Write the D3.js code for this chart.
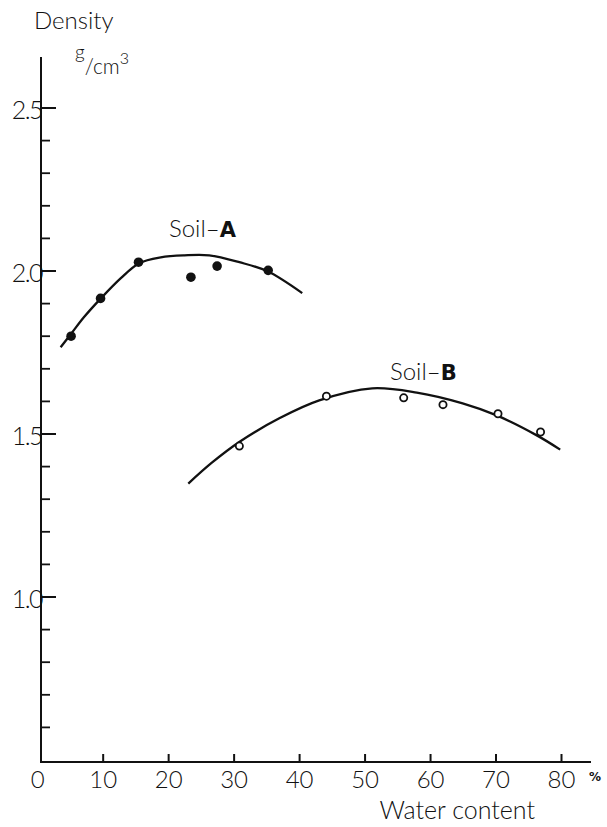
<!DOCTYPE html>
<html>
<head>
<meta charset="utf-8">
<script src="https://cdn.jsdelivr.net/npm/d3@7/dist/d3.min.js"></script>
<style>
  html, body { margin: 0; padding: 0; background: #fff; }
  svg { display: block; }
  .lbl { font-family: Lato, "Open Sans", sans-serif; font-weight: 300; fill: #111; }
  .ttl { font-family: Lato, "Open Sans", sans-serif; font-weight: 300; fill: #111; }
</style>
</head>
<body>
<svg id="chart" width="607" height="827"></svg>
<script>
// ---- Data ----
const soilA_x = [5.1, 9.6, 15.4, 23.4, 27.4, 35.2];
const soilA_y = [1.80, 1.916, 2.027, 1.981, 2.015, 2.002];

const soilB_x = [30.8, 44.1, 55.9, 61.9, 70.3, 76.8];
const soilB_y = [1.463, 1.616, 1.611, 1.590, 1.562, 1.506];

// hand-drawn fitted curves
const curveA_x = [3.5, 5.05, 7.05, 9.65, 12.7, 15.5, 18.8, 22.4, 26.2, 30.8, 35.1, 40.4];
const curveA_y = [1.766, 1.806, 1.858, 1.916, 1.978, 2.024, 2.042, 2.048, 2.048, 2.027, 1.999, 1.932];

const curveB_x = [23.0, 26.6, 30.9, 36.9, 43.0, 51.1, 57.9, 64.9, 70.1, 76.3, 79.8];
const curveB_y = [1.348, 1.412, 1.477, 1.548, 1.603, 1.640, 1.627, 1.594, 1.557, 1.495, 1.452];

const xTicks = [0, 10, 20, 30, 40, 50, 60, 70, 80];
const yMajor = [1.0, 1.5, 2.0, 2.5];
const yMajorLabels = ["1.0", "1.5", "2.0", "2.5"];
const yMinor = [0.6, 0.7, 0.8, 0.9, 1.1, 1.2, 1.3, 1.4, 1.6, 1.7, 1.8, 1.9, 2.1, 2.2, 2.3, 2.4];

// ---- Scales ----
const x = d3.scaleLinear().domain([0, 80]).range([37.7, 561.5]);
const y = d3.scaleLinear().domain([0.5, 2.5]).range([760, 108]);

const svg = d3.select("#chart");
const axisX0 = 41;          // y-axis line position
const axisY0 = 762;         // x-axis line position

// y axis line
svg.append("line").attr("x1", axisX0).attr("x2", axisX0)
  .attr("y1", 57).attr("y2", axisY0)
  .attr("stroke", "#111").attr("stroke-width", 2);
// x axis line
svg.append("line").attr("x1", axisX0 - 1).attr("x2", 591)
  .attr("y1", axisY0).attr("y2", axisY0)
  .attr("stroke", "#111").attr("stroke-width", 2);

// y ticks
svg.selectAll(".ymaj").data(yMajor).enter().append("line")
  .attr("x1", axisX0).attr("x2", axisX0 + 15)
  .attr("y1", d => y(d)).attr("y2", d => y(d))
  .attr("stroke", "#111").attr("stroke-width", 2);
svg.selectAll(".ymin").data(yMinor).enter().append("line")
  .attr("x1", axisX0).attr("x2", axisX0 + 9)
  .attr("y1", d => y(d)).attr("y2", d => y(d))
  .attr("stroke", "#111").attr("stroke-width", 1.8);
svg.selectAll(".ylab").data(yMajor).enter().append("text")
  .attr("class", "lbl")
  .attr("x", axisX0 + 1).attr("y", d => y(d) + 11)
  .attr("text-anchor", "end").attr("font-size", 25)
  .attr("letter-spacing", -1.5)
  .text((d, i) => yMajorLabels[i]);

// x ticks
svg.selectAll(".xt").data(xTicks.filter(d => d > 0)).enter().append("line")
  .attr("x1", d => x(d)).attr("x2", d => x(d))
  .attr("y1", axisY0).attr("y2", axisY0 - 8)
  .attr("stroke", "#111").attr("stroke-width", 2);
svg.selectAll(".xlab").data(xTicks).enter().append("text")
  .attr("class", "lbl")
  .attr("x", d => x(d)).attr("y", 788)
  .attr("text-anchor", "middle").attr("font-size", 24)
  .text(d => d);
svg.append("text")
  .attr("x", 589).attr("y", 781).attr("font-size", 12)
  .attr("font-family", "'DejaVu Sans', sans-serif").attr("font-weight", "bold").attr("fill", "#111")
  .text("%");

// axis titles
svg.append("text").attr("class", "ttl")
  .attr("x", 34).attr("y", 29).attr("font-size", 24)
  .text("Density");
const unit = svg.append("text").attr("class", "ttl").attr("x", 75).attr("y", 74).attr("font-size", 21);
unit.append("tspan").attr("dy", -15).attr("font-size", 19).text("g");
unit.append("tspan").attr("dy", 15).text("/cm");
unit.append("tspan").attr("dy", -10).attr("font-size", 16).text("3");

svg.append("text").attr("class", "ttl")
  .attr("x", 535).attr("y", 819).attr("font-size", 25)
  .attr("text-anchor", "end")
  .text("Water content");

// curves
const line = d3.line().x(d => x(d[0])).y(d => y(d[1])).curve(d3.curveCatmullRom.alpha(0.5));
svg.append("path").datum(curveA_x.map((v, i) => [v, curveA_y[i]]))
  .attr("d", line).attr("fill", "none").attr("stroke", "#111").attr("stroke-width", 2.3);
svg.append("path").datum(curveB_x.map((v, i) => [v, curveB_y[i]]))
  .attr("d", line).attr("fill", "none").attr("stroke", "#111").attr("stroke-width", 2.3);

// points
svg.selectAll(".pa").data(soilA_x).enter().append("circle")
  .attr("cx", d => x(d)).attr("cy", (d, i) => y(soilA_y[i]))
  .attr("r", 4.8).attr("fill", "#111");
svg.selectAll(".pb").data(soilB_x).enter().append("circle")
  .attr("cx", d => x(d)).attr("cy", (d, i) => y(soilB_y[i]))
  .attr("r", 3.6).attr("fill", "#fff").attr("stroke", "#111").attr("stroke-width", 1.8);

// series labels
function soilLabel(tx, ty, letter) {
  const t = svg.append("text").attr("class", "ttl").attr("x", tx).attr("y", ty).attr("font-size", 24);
  t.append("tspan").text("Soil");
  t.append("tspan").text("\u2013");
  t.append("tspan").attr("font-family", "'DejaVu Sans', sans-serif").attr("font-weight", "bold").attr("font-size", 21).text(letter);
}
soilLabel(169, 237, "A");
soilLabel(390, 380, "B");
</script>
</body>
</html>
